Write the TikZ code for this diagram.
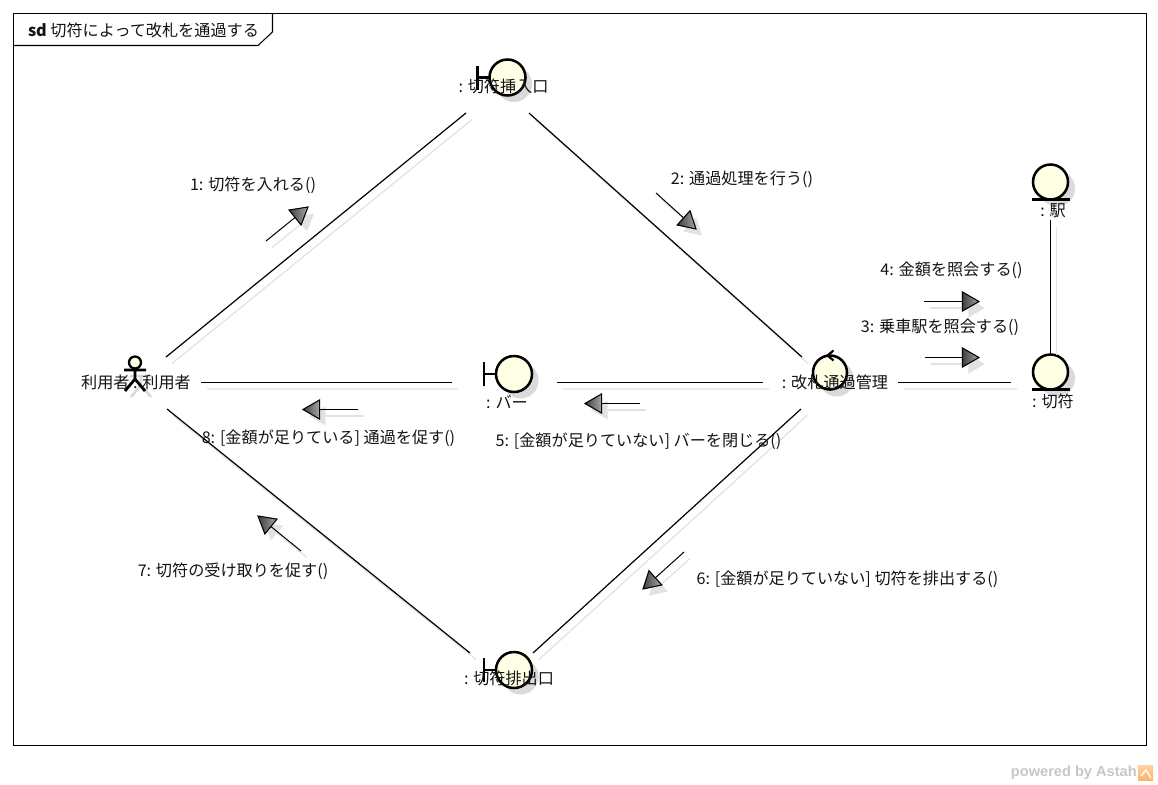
\documentclass[tikz,border=0pt]{standalone}
\usepackage{fontspec}
\setmainfont{Noto Sans CJK JP}
\newfontfamily\logofont{Liberation Sans}
\usetikzlibrary{calc}
\definecolor{cream}{HTML}{FFFFE6}
\definecolor{shadowgray}{HTML}{DADADA}
\definecolor{lineshadow}{HTML}{E2E2E2}
\tikzset{
  x=0.75pt,y=-0.75pt,
  txt/.style={inner sep=0pt,outer sep=0pt,font=\fontsize{12.1pt}{14pt}\selectfont,text=black!92},
  link/.style={draw=black,line width=0.9pt},
  linkshadow/.style={draw=lineshadow,line width=0.9pt},
  iconline/.style={draw=black,line width=1.9pt},
  iconshadow/.style={fill=shadowgray,draw=none},
  iconfill/.style={fill=cream,draw=black,line width=1.9pt},
  msgline/.style={draw=black,line width=0.75pt},
}
\newcommand{\msgarrow}[2]{% tail coordinate name, tip coordinate name
  \coordinate (mb) at ($(#2)!12.5pt!(#1)$);
  \coordinate (mc) at ($(mb)!7.2pt!90:(#2)$);
  \coordinate (md) at ($(mb)!7.2pt!-90:(#2)$);
  \draw[linkshadow] ([shift={(6,6.5)}]#1) -- ([shift={(6,6.5)}]mb);
  \fill[lineshadow] ([shift={(6,6.5)}]#2) -- ([shift={(6,6.5)}]mc) -- ([shift={(6,6.5)}]md) -- cycle;
  \draw[msgline] (#1) -- (mb);
  \shade[left color=black!75,right color=black!35,draw=black,line width=0.8pt] (#2) -- (mc) -- (md) -- cycle;
}
\newcommand{\link}[6]{%
  \draw[linkshadow] ([shift={(#2+6,#3+6.5)}]#1.center) -- ([shift={(#5+6,#6+6.5)}]#4.center);
  \draw[link] ([shift={(#2,#3)}]#1.center) -- ([shift={(#5,#6)}]#4.center);
}
\begin{document}
\begin{tikzpicture}
\useasboundingbox (0,0) rectangle (1158,785);
\fill[white] (0,0) rectangle (1158,785);
% frame
\draw[black,line width=0.8pt] (13.5,13.5) rectangle (1146.5,745.5);
\draw[black,line width=0.8pt] (13.5,45.5) -- (258,45.5) -- (272.5,32) -- (272.5,13.5);
\node[txt,anchor=west] (title) at (28,30.7) {\textbf{sd} 切符によって改札を通過する};

% icon positions
\coordinate (I) at (507.5,77.5);
\coordinate (B) at (514,374);
\coordinate (X) at (514,670);
\coordinate (C) at (830,372.5);
\coordinate (T) at (1050.5,372);
\coordinate (S) at (1050.5,182);
\coordinate (A) at (135,362.5);

% icon shadows
\foreach \p in {I,B,X,T,S}{\fill[iconshadow] ([shift={(6.5,6.5)}]\p) circle[radius=18];}
\fill[iconshadow] ([shift={(6.5,6.5)}]C) circle[radius=17.5];
\begin{scope}[shift={(6,6)}]
  \fill[iconshadow] (A) circle[radius=6.5];
  \draw[shadowgray,line width=2pt] (135,369) -- (135,379) (124,370) -- (146,370) (125,391) -- (135,379) -- (145,391);
\end{scope}

% boundary icons
\foreach \p in {I,B,X}{
  \draw[iconline] ([shift={(-30,-12)}]\p) -- ([shift={(-30,12)}]\p);
  \draw[iconline] ([shift={(-30,0)}]\p) -- ([shift={(-18,0)}]\p);
  \draw[iconfill] (\p) circle[radius=18];
}
% control icon
\draw[iconfill] (C) circle[radius=17];
\draw[iconline,line width=1.6pt] (833.5,350.5) -- (827.5,355.5) -- (833.5,360.5);
% entity icons
\foreach \p in {T,S}{
  \draw[iconfill] (\p) circle[radius=17.5];
  \draw[iconline] ([shift={(-19,17.5)}]\p) -- ([shift={(19,17.5)}]\p);
}
% actor icon
\draw[iconfill,line width=1.7pt] (A) circle[radius=6];
\draw[iconline,line width=2.1pt] (135,369) -- (135,379) (124,370) -- (146,370) (125,391) -- (135,379) -- (145,391);

% labels
\node[txt] (actor) at (136,382.7) {利用者 : 利用者};
\node[txt] (ins) at (503.5,86.7) {: 切符挿入口};
\node[txt] (bar) at (507,401.7) {: バー};
\node[txt] (ctrl) at (835,382.7) {: 改札通過管理};
\node[txt] (exit) at (509,678.7) {: 切符排出口};
\node[txt] (ticket) at (1053,401.7) {: 切符};
\node[txt] (station) at (1053,210.7) {: 駅};

% connectors: shadow first, then line
\link{actor}{30}{-25.7}{ins}{-37.5}{26.3}
\link{ins}{25.5}{26.3}{ctrl}{-33}{-25.7}
\link{actor}{65}{-0.2}{bar}{-55}{-19.2}
\link{bar}{50}{-19.2}{ctrl}{-72}{-0.2}
\link{ctrl}{63}{-0.2}{ticket}{-42}{-19.2}
\draw[linkshadow] ([shift={(3.5,15.8)}]station.center) -- ([shift={(3.5,-47)}]ticket.center);
\draw[link] ([shift={(-2.5,9.3)}]station.center) -- ([shift={(-2.5,-45.7)}]ticket.center);
\link{ctrl}{-34}{26.3}{exit}{24}{-25.7}
\link{actor}{31}{26.3}{exit}{-39}{-25.7}

% messages
\coordinate (m1a) at (266,241);   \coordinate (m1b) at (308,207);
\coordinate (m2a) at (656,193);   \coordinate (m2b) at (696,229);
\coordinate (m4a) at (924,301.5);   \coordinate (m4b) at (979,301.5);
\coordinate (m3a) at (925,357.5);   \coordinate (m3b) at (979,357.5);
\coordinate (m8a) at (358,409.5);   \coordinate (m8b) at (303,409.5);
\coordinate (m5a) at (640,403.5);   \coordinate (m5b) at (585,403.5);
\coordinate (m7a) at (301,551);   \coordinate (m7b) at (258,516);
\coordinate (m6a) at (684,552);   \coordinate (m6b) at (643,589);
\foreach \m in {m1,m2,m3,m4,m5,m6,m7,m8}{\msgarrow{\m a}{\m b}}

\node[txt] (l1) at (253,185.3) {1: 切符を入れる()};
\node[txt] (l2) at (742,179.3) {2: 通過処理を行う()};
\node[txt] (l4) at (951.5,270.3) {4: 金額を照会する()};
\node[txt] (l3) at (940,327.3) {3: 乗車駅を照会する()};
\node[txt] (l8) at (328.5,438.3) {8: [金額が足りている] 通過を促す()};
\node[txt] (l5) at (638.5,441.3) {5: [金額が足りていない] バーを閉じる()};
\node[txt] (l7) at (233,571.3) {7: 切符の受け取りを促す()};
\node[txt] (l6) at (847.5,579.3) {6: [金額が足りていない] 切符を排出する()};

% watermark
\node[inner sep=0pt,anchor=east,font=\logofont\bfseries\fontsize{10.95pt}{12pt}\selectfont,text=black!22] (wm) at (1137,772.5) {powered by Astah};
\shade[top color=orange!35,bottom color=orange!60] (1138,765) rectangle (1153,780);
\draw[white,line width=1pt] (1141,776) -- (1146,770) -- (1151,778);
\end{tikzpicture}
\end{document}
